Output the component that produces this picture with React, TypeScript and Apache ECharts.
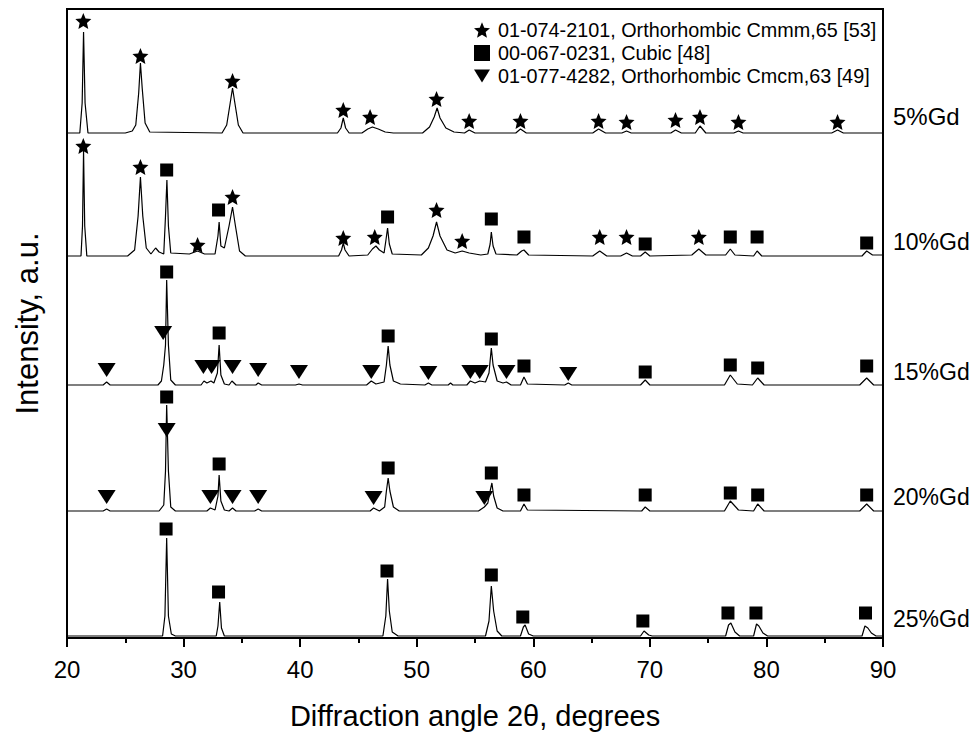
import React, { useEffect, useRef } from "react";
import * as echarts from "echarts";

// ---------- data ----------
const TRACE_NAMES = ["5%Gd", "10%Gd", "15%Gd", "20%Gd", "25%Gd"];
// vertical offset of each pattern (stacked plot), intensity a.u.
const OFFSETS = [505, 382, 253, 127, 2];

const TRACE_5 = [
  [20, 0], [21.1, 0], [21.3, 30], [21.42, 101], [21.55, 30], [21.8, 0],
  [25.0, 0], [25.6, 2], [25.9, 8], [26.15, 40], [26.3, 70], [26.45, 45], [26.7, 10], [27.1, 1],
  [33.3, 0], [33.7, 8], [34.0, 30], [34.2, 45], [34.4, 30], [34.7, 8], [35.1, 0],
  [43.2, 0], [43.5, 5], [43.7, 15], [43.9, 5], [44.2, 0],
  [45.3, 0], [45.8, 4], [46.2, 6], [46.7, 4], [47.3, 1], [48, 0],
  [50.5, 0], [51.1, 6], [51.5, 16], [51.75, 25], [52.0, 15], [52.5, 5], [53.2, 1],
  [54.1, 0], [54.5, 3], [55.0, 0],
  [58.5, 0], [58.9, 4], [59.4, 0],
  [65.1, 0], [65.6, 4], [66.2, 0],
  [67.6, 0], [68.0, 2], [68.4, 0],
  [71.8, 0], [72.2, 3], [72.7, 0],
  [73.9, 0], [74.3, 7], [74.8, 0],
  [77.2, 0], [77.6, 2], [78.0, 0],
  [85.6, 0], [86.1, 3], [86.6, 0],
  [90, 0],
];

const TRACE_10 = [
  [20, 0], [21.2, 0], [21.33, 30], [21.42, 105], [21.52, 30], [21.7, 0],
  [25.2, 0], [25.8, 6], [26.1, 40], [26.3, 79], [26.5, 40], [26.8, 8], [27.2, 2], [27.6, 8], [27.9, 4],
  [28.3, 2], [28.45, 40], [28.57, 76], [28.7, 30], [28.9, 3],
  [30.5, 2], [31.2, 5], [31.8, 2],
  [32.7, 2], [32.95, 20], [33.05, 34], [33.2, 10], [33.5, 8], [33.9, 30], [34.2, 49], [34.45, 30], [34.8, 5], [35.3, 0],
  [43.3, 0], [43.55, 6], [43.7, 13], [43.85, 6], [44.2, 0],
  [45.8, 1], [46.2, 7], [46.5, 10], [46.8, 6], [47.2, 3], [47.35, 15], [47.5, 28], [47.65, 12], [47.9, 2],
  [50.4, 1], [51.0, 8], [51.4, 20], [51.7, 34], [52.0, 20], [52.6, 6], [53.3, 3], [53.9, 5], [54.5, 3], [55.5, 1],
  [56.1, 2], [56.3, 12], [56.4, 24], [56.55, 10], [56.8, 2],
  [58.6, 1], [59.0, 5], [59.2, 6], [59.6, 1],
  [65.1, 0], [65.7, 5], [66.3, 0],
  [67.5, 0], [68.0, 3], [68.5, 0],
  [69.2, 0], [69.6, 4], [70.0, 0],
  [73.6, 1], [74.2, 7], [74.8, 1],
  [76.5, 1], [76.9, 7], [77.3, 1],
  [78.9, 0], [79.2, 5], [79.6, 0],
  [88.2, 0], [88.6, 5], [89.1, 1],
  [90, 1],
];

const TRACE_15 = [
  [20, 0], [23.1, 0], [23.4, 3], [23.7, 0],
  [27.8, 0], [28.1, 4], [28.3, 20], [28.45, 40], [28.55, 105], [28.7, 40], [28.9, 5], [29.3, 0],
  [31.5, 0], [31.75, 4], [32.0, 2], [32.35, 4], [32.6, 2], [32.9, 12], [33.05, 40], [33.2, 10], [33.5, 1],
  [33.9, 0], [34.15, 4], [34.5, 0],
  [36.2, 0], [36.4, 2], [36.7, 0],
  [39.6, 0], [39.9, 1], [40.2, 0],
  [45.7, 0], [46.1, 4], [46.5, 1], [47.2, 3], [47.4, 20], [47.55, 39], [47.7, 20], [48.0, 4], [48.6, 1],
  [50.7, 0], [51.0, 2], [51.3, 0],
  [52.7, 0], [52.9, 2], [53.1, 0],
  [54.3, 0], [54.6, 4], [55.0, 2], [55.4, 4], [55.9, 3], [56.2, 12], [56.4, 37], [56.55, 20], [56.9, 4], [57.4, 2], [57.7, 3], [58.1, 0],
  [58.9, 0], [59.2, 8], [59.5, 1],
  [62.7, 0], [63.0, 2], [63.3, 0],
  [69.2, 0], [69.6, 5], [70.0, 0],
  [76.4, 0], [76.9, 10], [77.5, 1],
  [78.8, 0], [79.25, 7], [79.8, 0],
  [88.0, 0], [88.6, 7], [89.2, 0],
  [90, 0],
];

const TRACE_20 = [
  [20, 0], [23.1, 0], [23.4, 2], [23.7, 0],
  [27.9, 0], [28.3, 6], [28.45, 40], [28.55, 106], [28.7, 40], [28.9, 4], [29.3, 0],
  [32.0, 0], [32.3, 3], [32.7, 1], [32.95, 15], [33.05, 36], [33.2, 10], [33.5, 1],
  [33.9, 0], [34.2, 3], [34.5, 0],
  [36.1, 0], [36.4, 2], [36.7, 0],
  [46.0, 0], [46.3, 3], [46.8, 0], [47.25, 4], [47.4, 20], [47.55, 33], [47.7, 20], [48.0, 4], [48.5, 0],
  [55.3, 0], [55.8, 4], [56.1, 8], [56.3, 20], [56.45, 28], [56.6, 15], [56.9, 3], [57.4, 0],
  [58.9, 0], [59.2, 7], [59.5, 1],
  [69.3, 0], [69.6, 4], [70.0, 0],
  [76.4, 0], [76.9, 10], [77.6, 1],
  [78.9, 0], [79.25, 7], [79.8, 0],
  [88.0, 0], [88.6, 7], [89.2, 0],
  [90, 0],
];

const TRACE_25 = [
  [20, 0], [28.2, 0], [28.4, 20], [28.55, 98], [28.7, 20], [28.95, 2], [29.3, 0],
  [32.8, 0], [32.95, 10], [33.1, 34], [33.25, 8], [33.5, 0],
  [47.1, 0], [47.35, 20], [47.5, 57], [47.65, 25], [47.9, 4], [48.4, 0],
  [55.9, 0], [56.2, 15], [56.4, 50], [56.6, 25], [56.9, 5], [57.3, 0],
  [58.9, 0], [59.15, 9], [59.3, 11], [59.6, 2], [60.0, 0],
  [69.2, 0], [69.5, 5], [69.9, 1], [70.2, 0],
  [76.5, 0], [76.75, 11], [76.95, 13], [77.3, 4], [77.7, 0],
  [78.9, 0], [79.15, 12], [79.35, 10], [79.7, 3], [80.1, 0],
  [88.2, 0], [88.45, 10], [88.7, 8], [89.0, 3], [89.4, 0],
  [90, 0],
];

const TRACES = [TRACE_5, TRACE_10, TRACE_15, TRACE_20, TRACE_25];

// phase markers: [2theta, marker height above the pattern baseline]
const STARS_5 = [[21.4, 112], [26.3, 77], [34.2, 52], [43.7, 23], [46.0, 16], [51.7, 34], [54.5, 12], [58.9, 12], [65.6, 12], [68.0, 11], [72.2, 13], [74.3, 16], [77.6, 11], [86.1, 11]];
const STARS_10 = [[21.4, 110], [26.3, 89], [31.2, 11], [34.2, 59], [43.7, 18], [46.4, 19], [51.7, 46], [53.9, 15], [65.7, 19], [68.0, 19], [74.2, 19]];
const SQUARES_10 = [[28.55, 86], [33.0, 46], [47.5, 39], [56.4, 37], [59.2, 19], [69.6, 12], [76.9, 19], [79.2, 19], [88.6, 13]];
const SQUARES_15 = [[28.55, 113], [33.05, 52], [47.55, 49], [56.4, 46], [59.2, 19], [69.6, 13], [76.9, 20], [79.25, 17], [88.6, 19]];
const TRIANGLES_15 = [[23.4, 15], [28.25, 52], [31.7, 18], [32.4, 18], [34.2, 18], [36.4, 15], [39.9, 13], [46.1, 13], [51.0, 12], [54.6, 13], [55.4, 13], [57.7, 13], [63.0, 11]];
const SQUARES_20 = [[28.55, 114], [33.05, 47], [47.55, 43], [56.4, 38], [59.2, 16], [69.6, 16], [76.9, 18], [79.25, 16], [88.6, 16]];
const TRIANGLES_20 = [[23.4, 14], [28.55, 81], [32.3, 14], [34.2, 14], [36.4, 14], [46.3, 13], [55.8, 13]];
const SQUARES_25 = [[28.5, 107], [33.0, 44], [47.45, 65], [56.4, 61], [59.1, 19], [69.4, 15], [76.7, 23], [79.1, 23], [88.5, 23]];

// which trace (index into OFFSETS) each marker list belongs to
const STAR_SETS: [number, number[][]][] = [[0, STARS_5], [1, STARS_10]];
const SQUARE_SETS: [number, number[][]][] = [[1, SQUARES_10], [2, SQUARES_15], [3, SQUARES_20], [4, SQUARES_25]];
const TRIANGLE_SETS: [number, number[][]][] = [[2, TRIANGLES_15], [3, TRIANGLES_20]];

const PHASE_NAMES = [
  "01-074-2101, Orthorhombic Cmmm,65 [53]",
  "00-067-0231, Cubic [48]",
  "01-077-4282, Orthorhombic Cmcm,63 [49]",
];

const X_MIN = 20;
const X_MAX = 90;
const X_STEP = 10;

// ---------- styles ----------
const FONT = "Liberation Sans, Arial, sans-serif";
const STAR_PATH =
  "path://M12,1 L15.1,8.3 L23,9 L17,14.2 L18.8,22 L12,17.9 L5.2,22 L7,14.2 L1,9 L8.9,8.3 Z";
const TRI_DOWN_PATH = "path://M0,0 L20,0 L10,16 Z";

const shift = (sets: [number, number[][]][]) =>
  sets.flatMap(([ti, pts]) => pts.map(([x, h]) => [x, h + OFFSETS[ti]]));

const LABEL_DY = [-17, -13, -13, -14, -17];
const LABEL_SIZE = [24, 23, 23, 23, 23];

export default function App() {
  const ref = useRef<HTMLDivElement>(null);

  useEffect(() => {
    if (!ref.current) return;
    const chart = echarts.init(ref.current, null, { renderer: "svg" });

    const lineSeries = TRACES.map((tr, i) => ({
      type: "line",
      name: TRACE_NAMES[i],
      data: tr.map(([x, y]) => [x, y + OFFSETS[i]]),
      showSymbol: false,
      symbol: "none",
      silent: true,
      lineStyle: { color: "#000", width: 1.2 },
      z: 2,
      endLabel: {
        show: true,
        formatter: TRACE_NAMES[i],
        color: "#000",
        fontFamily: FONT,
        fontSize: LABEL_SIZE[i],
        offset: [2, LABEL_DY[i]],
      },
    }));

    const markerStyle = { color: "#000", opacity: 1 };

    const option: any = {
      animation: false,
      backgroundColor: "#fff",
      grid: {
        left: 67,
        right: 94,
        top: 9,
        bottom: 102,
        show: true,
        borderColor: "#000",
        borderWidth: 2,
        containLabel: false,
      },
      legend: {
        orient: "vertical",
        left: 469,
        top: 15,
        itemWidth: 16,
        itemHeight: 16,
        itemGap: 3,
        data: PHASE_NAMES,
        formatter: (name: string) => "{t|" + name + "}",
        textStyle: {
          fontFamily: FONT,
          fontSize: 19.8,
          color: "#000",
          lineHeight: 16,
          rich: {
            t: {
              fontFamily: FONT,
              fontSize: 19.8,
              color: "#000",
              lineHeight: 16,
              padding: [0, 0, 0, 3],
            },
          },
        },
      },
      xAxis: {
        type: "value",
        min: X_MIN,
        max: X_MAX,
        interval: X_STEP,
        name: "Diffraction angle 2\u03b8, degrees",
        nameLocation: "middle",
        nameGap: 63,
        nameTextStyle: { fontFamily: FONT, fontSize: 29, color: "#000" },
        axisLine: { show: true, onZero: false, lineStyle: { color: "#000", width: 2 } },
        axisTick: { show: true, inside: false, length: 9, lineStyle: { color: "#000", width: 2 } },
        minorTick: { show: true, splitNumber: 2, length: 5, lineStyle: { color: "#000", width: 2 } },
        axisLabel: { fontFamily: FONT, fontSize: 24, color: "#000", margin: 19 },
        splitLine: { show: false },
        minorSplitLine: { show: false },
      },
      yAxis: {
        type: "value",
        min: 0,
        max: 629,
        name: "Intensity, a.u.",
        nameLocation: "middle",
        nameGap: 24,
        nameTextStyle: { fontFamily: FONT, fontSize: 31, color: "#000" },
        axisLine: { show: true, onZero: false, lineStyle: { color: "#000", width: 2 } },
        axisTick: { show: false },
        axisLabel: { show: false },
        splitLine: { show: false },
      },
      series: [
        ...lineSeries,
        {
          type: "scatter",
          name: PHASE_NAMES[0],
          data: shift(STAR_SETS),
          symbol: STAR_PATH,
          symbolSize: 16,
          itemStyle: markerStyle,
          silent: true,
          z: 3,
        },
        {
          type: "scatter",
          name: PHASE_NAMES[1],
          data: shift(SQUARE_SETS),
          symbol: "rect",
          symbolSize: 13,
          itemStyle: markerStyle,
          silent: true,
          z: 3,
        },
        {
          type: "scatter",
          name: PHASE_NAMES[2],
          data: shift(TRIANGLE_SETS),
          symbol: TRI_DOWN_PATH,
          symbolSize: [18, 14],
          itemStyle: markerStyle,
          silent: true,
          z: 3,
        },
      ],
    };

    chart.setOption(option);
    return () => chart.dispose();
  }, []);

  return (
    <div
      ref={ref}
      style={{ position: "fixed", left: 0, top: 0, width: 977, height: 740, background: "#fff" }}
    />
  );
}
